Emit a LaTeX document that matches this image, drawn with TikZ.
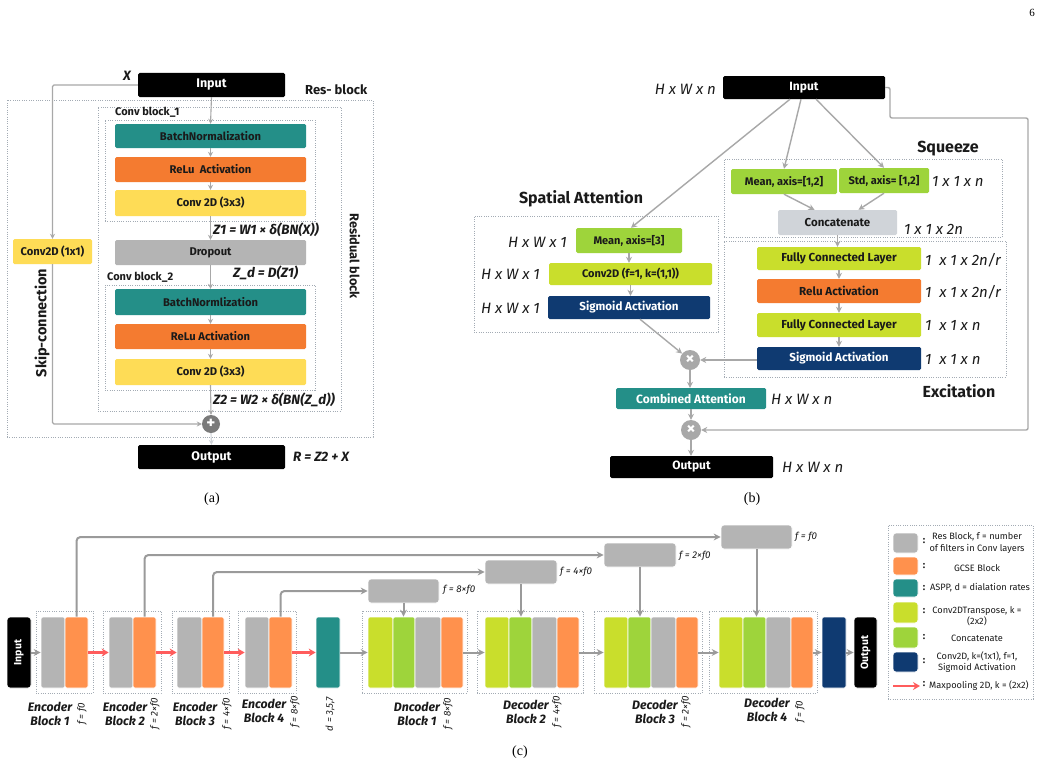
\documentclass[tikz,border=0pt]{standalone}
\usepackage{fontspec}
\setmainfont{Fira Sans}
\newfontfamily\serifff{Liberation Serif}
\usetikzlibrary{arrows.meta,calc}
\newcommand\fs[1]{\fontsize{#1}{#1}\selectfont}
\newcommand\rbox[7]{\node[#6, minimum width={(#4)-(#2)}, minimum height={(#5)-(#3)}] (#1) at ({((#2)+(#4))/2},{((#3)+(#5))/2}) {#7};}
\definecolor{cteal}{HTML}{248F88}
\definecolor{corange}{HTML}{F47B30}
\definecolor{cyellow}{HTML}{FEDC56}
\definecolor{cgrey}{HTML}{B4B4B4}
\definecolor{cconcat}{HTML}{D0D4D9}
\definecolor{cgreen}{HTML}{9ED43B}
\definecolor{cyg}{HTML}{C9DE2C}
\definecolor{cnavy}{HTML}{0F3A71}
\definecolor{corangeb}{HTML}{FF914D}
\definecolor{cred}{HTML}{FF5C5C}
\definecolor{cline}{HTML}{A8A8A8}
\definecolor{clinec}{HTML}{9A9A9A}
\definecolor{cdot}{HTML}{A3ABB4}
\definecolor{ctext}{HTML}{1A1A1A}
\definecolor{cplus}{HTML}{7A7A7A}
\tikzset{
 bx/.style={rectangle, rounded corners=1.5pt, inner sep=0pt, font=\fs{11.2}\bfseries, text=ctext},
 blk/.style={bx, fill=black, text=white, font=\fs{12.5}\bfseries},
 dframe/.style={rectangle, draw=cdot, line width=0.9pt, dash pattern=on 0.9pt off 1.4pt, inner sep=0pt},
 aarr/.style={draw=cline, line width=1.1pt, -{Stealth[length=5pt,width=5pt]}},
 barr/.style={draw=cline, line width=1.4pt, -{Stealth[length=6pt,width=6pt]}},
 carr/.style={draw=clinec, line width=2pt, -{Stealth[length=7pt,width=7pt]}},
 rarr/.style={draw=cred, line width=2.4pt, -{Stealth[length=7pt,width=8pt]}},
 lbl/.style={inner sep=0pt, anchor=west, font=\fs{15}\itshape, text=ctext},
 ttl/.style={inner sep=0pt, font=\fs{16}\bfseries, text=ctext},
 albl/.style={inner sep=0pt, anchor=west, font=\fs{13.5}\bfseries\itshape, text=ctext},
 mult/.style={circle, fill=cline, minimum size=20pt, inner sep=0pt, text=white, font=\fs{18}\bfseries},
 capt/.style={inner sep=0pt, font=\serifff\fs{14}},
 cb/.style={rectangle, rounded corners=2pt, inner sep=0pt, draw=white, line width=0.7pt},
 enc/.style={inner sep=0pt, align=center, font=\fontsize{12.3}{13.5}\selectfont\bfseries\itshape, text=ctext},
 fl/.style={inner sep=0pt, rotate=90, font=\fs{9.8}\itshape, text=ctext},
 fu/.style={inner sep=0pt, anchor=west, font=\fs{9.8}\itshape, text=ctext},
 leg/.style={inner sep=0pt, align=center, font=\fontsize{9.2}{11.5}\selectfont, text=ctext},
}
\begin{document}
\begin{tikzpicture}[x=1pt,y=-1pt]
\useasboundingbox[fill=white] (0,0) rectangle (1041,768);
\node[inner sep=0pt, font=\serifff\fs{11}] (pg) at (1032,13) {6};

% ================= (a) =================
\rbox{aOuter}{7}{100}{373}{437}{dframe}{}
\rbox{aRes}{98}{107}{341}{411}{dframe}{}
\rbox{aCBa}{105}{120}{315}{221}{dframe}{}
\rbox{aCBb}{105}{285}{315}{390}{dframe}{}
\rbox{aIn}{138}{73}{285}{97}{blk}{Input}
\rbox{aBNa}{115}{124}{306}{148}{bx, fill=cteal}{BatchNormalization}
\rbox{aRLa}{115}{157}{306}{182}{bx, fill=corange}{ReLu\ \ Activation}
\rbox{aCVa}{115}{190}{306}{216}{bx, fill=cyellow}{Conv 2D (3x3)}
\rbox{aDO}{115}{240}{306}{265}{bx, fill=cgrey}{Dropout}
\rbox{aBNb}{115}{289}{306}{315}{bx, fill=cteal}{BatchNormlization}
\rbox{aRLb}{115}{324}{306}{349}{bx, fill=corange}{ReLu Activation}
\rbox{aCVb}{115}{359}{306}{385}{bx, fill=cyellow}{Conv 2D (3x3)}
\rbox{aOut}{138}{445}{285}{469}{blk}{Output}
\rbox{aCone}{13}{239}{92}{264}{bx, fill=cyellow}{Conv2D (1x1)}
\node[circle, fill=cplus, minimum size=18pt, inner sep=0pt, text=white, font=\fs{17}\bfseries] (aPlus) at (211,424) {+};

\node[inner sep=0pt, font=\fs{13.5}\bfseries\itshape, text=ctext] (aX) at (127,76) {X};
\node[inner sep=0pt, anchor=west, font=\fs{13}\bfseries, text=ctext] (aResL) at (305,90) {Res- block};
\node[inner sep=0pt, anchor=west, font=\fs{11}\bfseries, text=ctext] (aCBaL) at (115,112) {Conv block\_1};
\node[inner sep=0pt, anchor=west, font=\fs{11}\bfseries, text=ctext] (aCBbL) at (107,277) {Conv block\_2};
\node[albl] (aZa) at (213,230) {Z1 = W1 × δ(BN(X))};
\node[albl] (aZd) at (233,273) {Z\_d = D(Z1)};
\node[albl] (aZb) at (213,400) {Z2 = W2 × δ(BN(Z\_d))};
\node[albl] (aR) at (293,457) {R = Z2 + X};
\node[inner sep=0pt, rotate=90, font=\fs{14.5}\bfseries, text=ctext] (aSkip) at (42,323) {Skip-connection};
\node[inner sep=0pt, rotate=-90, font=\fs{12.8}\bfseries, text=ctext] (aResB) at (355,256) {Residual block};
\node[capt] (capa) at (212,499) {(a)};

\draw[aarr] (aIn.south) -- (aBNa.north);
\draw[aarr] (aBNa.south) -- (aRLa.north);
\draw[aarr] (aRLa.south) -- (aCVa.north);
\draw[aarr] (aCVa.south) -- (aDO.north);
\draw[aarr] (aDO.south) -- (aBNb.north);
\draw[aarr] (aBNb.south) -- (aRLb.north);
\draw[aarr] (aRLb.south) -- (aCVb.north);
\draw[aarr] (aCVb.south) -- (aPlus.north);
\draw[aarr, draw=cconcat] (aPlus.south) -- (aOut.north);
\draw[aarr, rounded corners=1.5pt] (aIn.west) -| (aCone.north);
\draw[aarr, rounded corners=1.5pt] (aCone.south) |- (aPlus.west);

% ================= (b) =================
\rbox{bSq}{724}{159}{1002}{237}{dframe}{}
\rbox{bEx}{724}{241}{1006}{377}{dframe}{}
\rbox{bSp}{474}{216}{718}{332}{dframe}{}
\rbox{bIn}{723}{76}{885}{99}{blk, font=\fs{12}\bfseries}{Input}
\node[lbl, anchor=east] (bLin) at (716,89) {H x W x n};
\node[ttl] (bSqL) at (948,149) {Squeeze};
\rbox{bMab}{731}{169}{837}{194}{bx, fill=cgreen, font=\fs{11}\bfseries}{Mean, axis=[1,2]}
\rbox{bStd}{839}{168}{929}{193}{bx, fill=cgreen, font=\fs{11}\bfseries}{Std, axis= [1,2]}
\node[lbl] (bLa) at (932,181) {1 x 1 x n};
\rbox{bCat}{778}{210}{897}{235}{bx, fill=cconcat, font=\fs{11.5}\bfseries}{Concatenate}
\node[lbl] (bLb) at (904,229) {1 x 1 x 2n};
\rbox{bFCa}{757}{247}{921}{270}{bx, fill=cyg, font=\fs{11.6}\bfseries}{Fully Connected Layer}
\node[lbl] (bLc) at (925,260) {1\ \ x 1 x 2n/r};
\rbox{bRL}{757}{279}{921}{303}{bx, fill=corange, font=\fs{11.6}\bfseries}{Relu Activation}
\node[lbl] (bLd) at (925,292) {1\ \ x 1 x 2n/r};
\rbox{bFCb}{757}{313}{921}{337}{bx, fill=cyg, font=\fs{11.6}\bfseries}{Fully Connected Layer}
\node[lbl] (bLe) at (925,325) {1\ \ x 1 x n};
\rbox{bSgb}{757}{347}{921}{370}{bx, fill=cnavy, text=white, font=\fs{11.6}\bfseries}{Sigmoid Activation}
\node[lbl] (bLf) at (925,359) {1\ \ x 1 x n};
\node[ttl] (bExL) at (959,391) {Excitation};
\node[ttl] (bSpL) at (581,199) {Spatial Attention};
\rbox{bMc}{576}{228}{682}{253}{bx, fill=cgreen, font=\fs{11}\bfseries}{Mean, axis=[3]}
\node[lbl, anchor=east] (bLg) at (567,242) {H x W x 1};
\rbox{bCv}{549}{263}{712}{285}{bx, fill=cyg, font=\fs{11}\bfseries}{Conv2D (f=1, k=(1,1))}
\node[lbl, anchor=east] (bLh) at (540,274) {H x W x 1};
\rbox{bSga}{548}{296}{710}{319}{bx, fill=cnavy, text=white, font=\fs{11.6}\bfseries}{Sigmoid Activation}
\node[lbl, anchor=east] (bLi) at (540,308) {H x W x 1};
\node[mult] (bXa) at (690,360) {×};
\rbox{bCA}{616}{388}{766}{409}{bx, fill=cteal, text=white, font=\fs{12}\bfseries}{Combined Attention}
\node[lbl] (bLj) at (771,399) {H x W x n};
\node[mult] (bXb) at (691,430) {×};
\rbox{bOut}{610}{456}{773}{478}{blk, font=\fs{12}\bfseries}{Output}
\node[lbl] (bLk) at (782,467) {H x W x n};
\node[capt] (capb) at (752,499) {(b)};

\draw[barr] ([xshift=-14]bIn.south) -- ([xshift=2]bMc.north);
\draw[barr] ([xshift=-3]bIn.south) -- (bMab.north);
\draw[barr] ([xshift=12]bIn.south) -- (bStd.north);
\draw[barr] (bMab.south) -- ([xshift=-23]bCat.north);
\draw[barr] (bStd.south) -- ([xshift=21]bCat.north);
\draw[barr] (bCat.south) -- (bCat.south |- bFCa.north);
\draw[barr] (bFCa.south) -- (bRL.north);
\draw[barr] (bRL.south) -- (bFCb.north);
\draw[barr] (bFCb.south) -- (bSgb.north);
\draw[barr] (bMc.south) -- (bMc.south |- bCv.north);
\draw[barr] (bCv.south) -- (bCv.south |- bSga.north);
\draw[barr] ([xshift=11]bSga.south) -- (bXa);
\draw[barr] (bSgb.west |- bXa) -- (bXa.east);
\draw[barr] (bXa.south) -- (bXa.south |- bCA.north);
\draw[barr] (bCA.south -| bXb) -- (bXb.north);
\draw[barr] (bXb.south) -- (bXb.south |- bOut.north);
\coordinate (bSka) at (890,118);
\coordinate (bSkb) at (1028,430);
\draw[barr, rounded corners=2pt] (bIn.east) -| (bSka) -| (bSkb) -- (bXb.east);

% ================= (c) =================
\rbox{cFa}{36}{611}{93}{693}{dframe}{}
\rbox{cFb}{103}{611}{161}{693}{dframe}{}
\rbox{cFc}{172}{611}{229}{693}{dframe}{}
\rbox{cFd}{238}{611}{296}{693}{dframe}{}
\rbox{cFe}{362}{611}{467}{693}{dframe}{}
\rbox{cFf}{477}{611}{583}{693}{dframe}{}
\rbox{cFg}{594}{611}{702}{693}{dframe}{}
\rbox{cFh}{709}{611}{817}{693}{dframe}{}

\rbox{cIn}{7}{617}{31}{688}{cb, rounded corners=3pt, fill=black}{}
\node[inner sep=0pt, rotate=90, text=white, font=\fs{10.5}\bfseries] (cInT) at (cIn) {Input};
\rbox{cEag}{41}{617}{65}{688}{cb, fill=cgrey}{}
\rbox{cEao}{65}{617}{88}{688}{cb, fill=corangeb}{}
\rbox{cEbg}{109}{617}{133}{688}{cb, fill=cgrey}{}
\rbox{cEbo}{133}{617}{156}{688}{cb, fill=corangeb}{}
\rbox{cEcg}{177}{617}{202}{688}{cb, fill=cgrey}{}
\rbox{cEco}{202}{617}{224}{688}{cb, fill=corangeb}{}
\rbox{cEdg}{245}{617}{269}{688}{cb, fill=cgrey}{}
\rbox{cEdo}{269}{617}{292}{688}{cb, fill=corangeb}{}
\rbox{cAS}{316}{617}{340}{688}{cb, fill=cteal}{}

\rbox{cDay}{368}{617}{393}{688}{cb, fill=cyg}{}
\rbox{cDag}{393}{617}{415}{688}{cb, fill=cgreen}{}
\rbox{cDar}{415}{617}{441}{688}{cb, fill=cgrey}{}
\rbox{cDao}{441}{617}{463}{688}{cb, fill=corangeb}{}
\rbox{cDby}{485}{617}{509}{688}{cb, fill=cyg}{}
\rbox{cDbg}{509}{617}{532}{688}{cb, fill=cgreen}{}
\rbox{cDbr}{532}{617}{557}{688}{cb, fill=cgrey}{}
\rbox{cDbo}{557}{617}{579}{688}{cb, fill=corangeb}{}
\rbox{cDcy}{604}{617}{628}{688}{cb, fill=cyg}{}
\rbox{cDcg}{628}{617}{651}{688}{cb, fill=cgreen}{}
\rbox{cDcr}{651}{617}{676}{688}{cb, fill=cgrey}{}
\rbox{cDco}{676}{617}{698}{688}{cb, fill=corangeb}{}
\rbox{cDdy}{719}{617}{743}{688}{cb, fill=cyg}{}
\rbox{cDdg}{743}{617}{766}{688}{cb, fill=cgreen}{}
\rbox{cDdr}{766}{617}{791}{688}{cb, fill=cgrey}{}
\rbox{cDdo}{791}{617}{813}{688}{cb, fill=corangeb}{}
\rbox{cNv}{822}{617}{846}{688}{cb, fill=cnavy}{}
\rbox{cOut}{854}{617}{877}{688}{cb, rounded corners=3pt, fill=black}{}
\node[inner sep=0pt, rotate=90, text=white, font=\fs{10.5}\bfseries] (cOutT) at (cOut) {Output};

\rbox{cUa}{368}{579}{439}{603}{cb, rounded corners=3pt, fill=cgrey}{}
\rbox{cUb}{485}{560}{557}{584}{cb, rounded corners=3pt, fill=cgrey}{}
\rbox{cUc}{604}{543}{676}{567}{cb, rounded corners=3pt, fill=cgrey}{}
\rbox{cUd}{721}{525}{792}{549}{cb, rounded corners=3pt, fill=cgrey}{}
\node[fu] (cUaL) at (443,590) {f = 8×f0};
\node[fu] (cUbL) at (560,572) {f = 4×f0};
\node[fu] (cUcL) at (679,556) {f = 2×f0};
\node[fu] (cUdL) at (795,537) {f = f0};

\draw[carr] (cIn.east) -- (cEag.west);
\draw[rarr] (cEao.east) -- (cEbg.west);
\draw[rarr] (cEbo.east) -- (cEcg.west);
\draw[rarr] (cEco.east) -- (cEdg.west);
\draw[rarr] (cEdo.east) -- (cAS.west);
\draw[carr] (cAS.east) -- (cDay.west);
\draw[carr] (cDao.east) -- (cDby.west);
\draw[carr] (cDbo.east) -- (cDcy.west);
\draw[carr] (cDco.east) -- (cDdy.west);
\draw[carr] (cDdo.east) -- (cNv.west);
\draw[carr] (cNv.east) -- (cOut.west);
\draw[carr, rounded corners=4pt] (cEao.north) |- (cUd.west);
\draw[carr, rounded corners=4pt] (cEbo.north) |- (cUc.west);
\draw[carr, rounded corners=4pt] (cEco.north) |- (cUb.west);
\draw[carr, rounded corners=4pt] (cEdo.north) |- (cUa.west);
\draw[carr] (cUa.south) -- (cUa.south |- cDag.north);
\draw[carr] (cUb.south) -- (cUb.south |- cDbg.north);
\draw[carr] (cUc.south) -- (cUc.south |- cDcg.north);
\draw[carr] (cUd.south) -- (cUd.south |- cDdg.north);

\node[enc] (cLa) at (50,714) {Encoder\\Block 1};
\node[enc] (cLb) at (125,714) {Encoder\\Block 2};
\node[enc] (cLc) at (195,714) {Encoder\\Block 3};
\node[enc] (cLd) at (264,711) {Encoder\\Block 4};
\node[enc] (cLe) at (417,714) {Dncoder\\Block 1};
\node[enc] (cLf) at (526,712) {Decoder\\Block 2};
\node[enc] (cLg) at (655,712) {Decoder\\Block 3};
\node[enc] (cLh) at (767,710) {Decoder\\Block 4};
\node[fl] (cFLa) at (82,714) {f = f0};
\node[fl] (cFLb) at (155,714) {f = 2×f0};
\node[fl] (cFLc) at (227,714) {f = 4×f0};
\node[fl] (cFLd) at (295,712) {f = 8×f0};
\node[fl] (cFLe) at (330,714) {d = 3,5,7};
\node[fl] (cFLf) at (448,714) {f = 8×f0};
\node[fl] (cFLg) at (557,712) {f = 4×f0};
\node[fl] (cFLh) at (686,712) {f = 2×f0};
\node[fl] (cFLi) at (800,712) {f = f0};
\node[capt] (capc) at (520,752) {(c)};

\rbox{cLeg}{888}{525}{1033}{699}{dframe}{}
\rbox{lga}{893}{533}{918}{553}{cb, rounded corners=3pt, fill=cgrey}{}
\rbox{lgb}{893}{557}{918}{575}{cb, rounded corners=3pt, fill=corangeb}{}
\rbox{lgc}{893}{579}{918}{597}{cb, rounded corners=3pt, fill=cteal}{}
\rbox{lgd}{893}{602}{918}{623}{cb, rounded corners=3pt, fill=cyg}{}
\rbox{lge}{893}{627}{918}{648}{cb, rounded corners=3pt, fill=cgreen}{}
\rbox{lgf}{893}{652}{918}{672}{cb, rounded corners=3pt, fill=cnavy}{}
\coordinate (lgga) at (893,686);
\coordinate (lggb) at (920,686);
\draw[rarr, line width=2pt] (lgga) -- (lggb);
\foreach \yy/\nm in {541/a,566/b,588/c,611/d,637/e,661/f,684/g}{
  \node[inner sep=0pt, font=\fs{10}\bfseries, text=ctext] (lgcol\nm) at (924,\yy) {:};
}
\node[leg] (lgta) at (977,543) {Res Block, f = number\\of filters in Conv layers};
\node[leg] (lgtb) at (977,568) {GCSE Block};
\node[leg] (lgtc) at (980,588) {ASPP, d = dialation rates};
\node[leg] (lgtd) at (977,616) {Conv2DTranspose, k =\\(2x2)};
\node[leg] (lgte) at (977,638) {Concatenate};
\node[leg] (lgtf) at (977,662) {Conv2D, k=(1x1), f=1,\\Sigmoid Activation};
\node[leg, anchor=west] (lgtg) at (929,686) {Maxpooling 2D, k = (2x2)};
\end{tikzpicture}
\end{document}
